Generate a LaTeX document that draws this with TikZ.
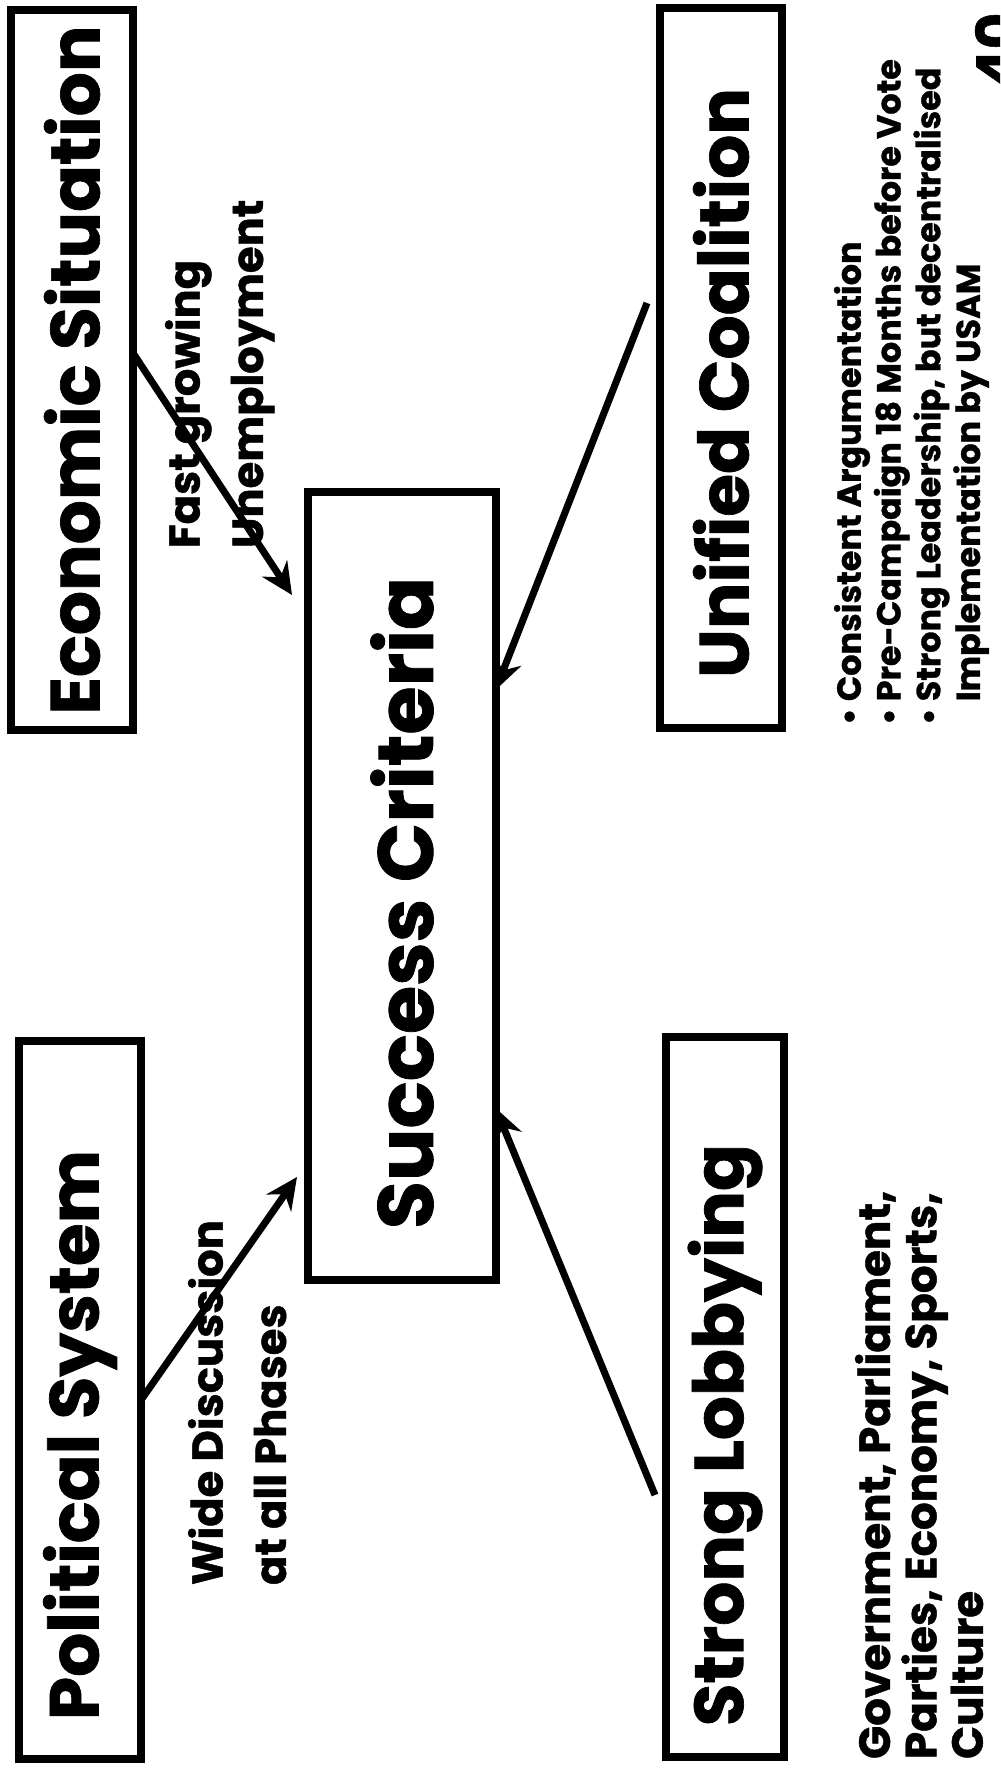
\documentclass[tikz,border=0pt]{standalone}
\usepackage{fontspec}
\setmainfont{Poppins}[BoldFeatures={FakeBold=1}]
\usetikzlibrary{arrows.meta,calc}

\newcommand\titlefont{\bfseries\fontsize{19.7}{24}\selectfont}
\newcommand\critfont{\bfseries\fontsize{22.2}{26}\selectfont}
\newcommand\labfont{\bfseries\fontsize{12.3}{18}\selectfont}
\newcommand\notefont{\bfseries\fontsize{12.4}{13.2}\selectfont}
\newcommand\listfont{\bfseries\fontsize{9.5}{11.3}\selectfont}

\begin{document}
\begin{tikzpicture}[x=0.01cm, y=-0.01cm,
  every node/.style={inner sep=0pt, outer sep=0pt},
  box/.style={draw, line width=2.3pt},
  title/.style={rotate=90, font=\titlefont},
  conn/.style={line width=2pt, -{Stealth[length=9pt,width=8.5pt,inset=3pt]}},
  lbl/.style={rotate=90, anchor=north west, align=left}]
\useasboundingbox (0,0) rectangle (1000,1776);
\clip (0,0) rectangle (1000,1776);

% the four factor boxes and the central box
\node[box, minimum width=1.22cm, minimum height=7.2cm] (econ) at (72,370) {};
\node[box, minimum width=1.22cm, minimum height=7.2cm] (unif) at (721,368) {};
\node[box, minimum width=1.22cm, minimum height=7.17cm] (pol) at (80,1400) {};
\node[box, minimum width=1.18cm, minimum height=7.19cm] (lobby) at (725,1397) {};
\node[box, minimum width=1.87cm, minimum height=7.87cm] (succ) at (402,886) {};

% box titles, set a little below the middle of their boxes
\node[title] (econ-t) at ([yshift=0cm]econ.center) {Economic Situation};
\node[title] (unif-t) at ([yshift=-0.15cm]unif.center) {Unified Coalition};
\node[title] (pol-t) at ([yshift=-0.35cm]pol.center) {Political System};
\node[title] (lobby-t) at ([yshift=-0.38cm]lobby.center) {Strong Lobbying};
\node[title, font=\critfont] (succ-t) at ([yshift=-0.17cm]succ.center) {Success Criteria};

% free ends of the connectors
\coordinate (t1) at (292,595);
\coordinate (t2) at (297,1177);
\coordinate (s3) at (647,303);
\coordinate (s4) at (655,1495);

\draw[conn] (econ.east |- 0,353) -- (t1);
\draw[conn] (pol.east |- 0,1400) -- (t2);
\draw[conn] (s3) -- (succ.east |- 0,690);
\draw[conn] (s4) -- (succ.east |- 0,1108);

% connector labels
\node[lbl, font=\labfont] (lab1) at (165,548) {Fast growing\\Unemployment};
\node[lbl, font=\labfont] (lab2) at (188,1585) {Wide Discussion\\at all Phases};

% notes under the right-hand boxes
\node[lbl, font=\listfont] (notes) at (834,725)
  {• Consistent Argumentation\\
   • Pre-Campaign 18 Months before Vote\\
   • Strong Leadership, but decentralised\\
   \hphantom{• }Implementation by USAM};
\node[lbl, font=\notefont] (groups) at (855,1759)
  {Government, Parliament,\\Parties, Economy, Sports,\\Culture};

% page number
\node[rotate=90, font=\bfseries\fontsize{16}{18}\selectfont] (pg) at (996,50) {40};
\end{tikzpicture}
\end{document}
